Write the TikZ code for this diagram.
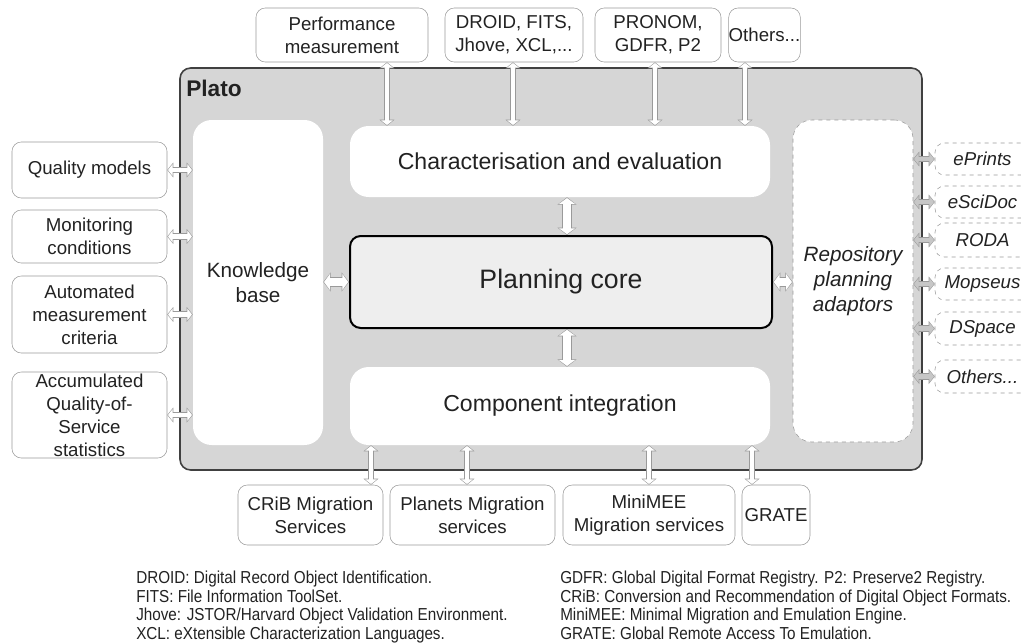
\documentclass[tikz,border=0pt]{standalone}
\usepackage{fontspec}
\setmainfont{Liberation Sans}
\newfontfamily\notefont[FakeStretch=0.88]{Liberation Sans}
\usepackage{tikz}
\usetikzlibrary{arrows.meta,calc}
\definecolor{platogray}{HTML}{D6D6D6}
\definecolor{coregray}{HTML}{EEEEEE}
\definecolor{linegray}{HTML}{9A9A9A}
\definecolor{inkgray}{HTML}{222222}

\begin{document}
\begin{tikzpicture}[
			x=0.75pt, y=-0.75pt,
			every node/.style={text=inkgray, inner sep=0pt},
			platobox/.style={rectangle, draw=black!75, line width=1.2pt, fill=platogray, rounded corners=8pt},
			block/.style={rectangle, fill=white, rounded corners=14pt, align=center, font=\fontsize{17.3}{21}\selectfont},
			corebox/.style={rectangle, draw=black, line width=1.5pt, fill=coregray, rounded corners=8pt, font=\fontsize{20}{24}\selectfont},
			tallbox/.style={rectangle, fill=white, rounded corners=14pt, align=center, font=\fontsize{15.5}{18.75}\selectfont},
			sidebox/.style={rectangle, draw=linegray, fill=white, rounded corners=7pt, align=center, font=\fontsize{14}{17.25}\selectfont},
			repobox/.style={sidebox, dashed, font=\fontsize{14}{17.25}\selectfont\itshape},
			dblarrow/.style={draw=linegray, line width=5pt,
				arrows={Triangle[length=4.5pt 0, width=11pt 0]-Triangle[length=4.5pt 0, width=11pt 0]},
				postaction={draw=#1, line width=3.6pt, shorten >=0.6pt, shorten <=0.6pt,
					arrows={Triangle[length=3.4pt 0, width=8.6pt 0]-Triangle[length=3.4pt 0, width=8.6pt 0]}}},
			dblarrow/.default=white,
			repoarrow/.style={dblarrow=linegray!55},
			widearrow/.style={draw=linegray, line width=8pt,
				arrows={Triangle[length=5.5pt 0, width=14pt 0]-Triangle[length=5.5pt 0, width=14pt 0]},
				postaction={draw=white, line width=6.6pt, shorten >=0.6pt, shorten <=0.6pt,
					arrows={Triangle[length=4.4pt 0, width=11.8pt 0]-Triangle[length=4.4pt 0, width=11.8pt 0]}}}
		]
		\useasboundingbox (0,0) rectangle (1021,643);
		\clip (0,0) rectangle (1021,643);

		% Plato
		\node (plato) [platobox, minimum width=556.5pt, minimum height=301.5pt] at (551,269) {};
		\node (platolabel) [anchor=west, font=\fontsize{17}{20}\selectfont\bfseries] at (186,88) {Plato};

		\node (kb) [tallbox, minimum width=97.5pt, minimum height=243.75pt] at (258,282.5) {Knowledge\\base};
		\node (char) [block, minimum width=315pt, minimum height=53.25pt] at (560,161.5) {Characterisation and evaluation};
		\node (core) [corebox, minimum width=316.5pt, minimum height=69pt] at (561,282) {Planning core};
		\node (comp) [block, minimum width=315pt, minimum height=58.5pt] at (560,406) {Component integration};
		\node (rpa) [tallbox, draw=linegray, dashed, minimum width=90pt, minimum height=241.5pt, font=\fontsize{15.5}{18.75}\selectfont\itshape] at (853,281) {Repository\\planning\\adaptors};

		% top
		\node (perf) [sidebox, minimum width=129pt, minimum height=40.5pt] at (342,35) {Performance\\measurement};
		\node (droid) [sidebox, minimum width=103.5pt, minimum height=40.5pt] at (514,35) {DROID, FITS,\\Jhove, XCL,...};
		\node (pronom) [sidebox, minimum width=94.5pt, minimum height=40.5pt] at (658,35) {PRONOM,\\GDFR, P2};
		\node (otherstop) [sidebox, minimum width=53.25pt, minimum height=40.5pt] at (764.5,35) {Others...};

		% left
		\node (qm) [sidebox, minimum width=116.25pt, minimum height=42pt] at (89.5,170) {Quality models};
		\node (mon) [sidebox, minimum width=116.25pt, minimum height=39.75pt] at (89.5,236.5) {Monitoring\\conditions};
		\node (auto) [sidebox, minimum width=116.25pt, minimum height=57.75pt] at (89.5,314.5) {Automated\\measurement\\criteria};
		\node (acc) [sidebox, minimum width=116.25pt, minimum height=64.5pt] at (89.5,415) {Accumulated\\Quality-of-\\Service\\statistics};

		% right
		\node (eprints) [repobox, minimum width=71.25pt, minimum height=24pt] at (982.5,159) {ePrints};
		\node (escidoc) [repobox, minimum width=71.25pt, minimum height=24pt] at (982.5,202) {eSciDoc};
		\node (roda) [repobox, minimum width=71.25pt, minimum height=25.5pt] at (982.5,240) {RODA};
		\node (mopseus) [repobox, minimum width=71.25pt, minimum height=24pt] at (982.5,284) {Mopseus};
		\node (dspace) [repobox, minimum width=71.25pt, minimum height=24.75pt] at (982.5,328.5) {DSpace};
		\node (othersright) [repobox, minimum width=71.25pt, minimum height=24.75pt] at (982.5,376.5) {Others...};

		% bottom
		\node (crib) [sidebox, minimum width=108.75pt, minimum height=45pt] at (310.5,515) {CRiB Migration\\Services};
		\node (planets) [sidebox, minimum width=123.75pt, minimum height=45pt] at (472.5,515) {Planets Migration\\services};
		\node (minimee) [sidebox, minimum width=129pt, minimum height=45pt] at (649,515) {MiniMEE\\Migration services};
		\node (grate) [sidebox, minimum width=51pt, minimum height=45pt] at (776,515) {GRATE};

		% notes
		\node (notesleft) [anchor=north west, align=left, font=\notefont\fontsize{13}{13.9}\selectfont] at (136,571) {DROID: Digital Record Object Identification.\\FITS: File Information ToolSet.\\Jhove: JSTOR/Harvard Object Validation Environment.\\XCL: eXtensible Characterization Languages.};
		\node (notesright) [anchor=north west, align=left, font=\notefont\fontsize{13}{13.9}\selectfont] at (560,571) {GDFR: Global Digital Format Registry. P2: Preserve2 Registry.\\CRiB: Conversion and Recommendation of Digital Object Formats.\\MiniMEE: Minimal Migration and Emulation Engine.\\GRATE: Global Remote Access To Emulation.};

		% arrows
		\draw[dblarrow] (perf.south -| 387,0) -- (char.north -| 387,0);
		\draw[dblarrow] (droid.south -| 513,0) -- (char.north -| 513,0);
		\draw[dblarrow] (pronom.south -| 655,0) -- (char.north -| 655,0);
		\draw[dblarrow] (otherstop.south -| 745,0) -- (char.north -| 745,0);
		\foreach \n in {qm,mon,auto,acc}
			\draw[dblarrow] (\n.east) -- (\n.east -| kb.west);
		\draw[widearrow] (kb.east |- core) -- (core.west);
		\draw[widearrow] (core.east) -- (rpa.west |- core);
		\draw[widearrow] (char.south -| 567,0) -- (core.north -| 567,0);
		\draw[widearrow] (core.south -| 567,0) -- (comp.north -| 567,0);
		\foreach \n in {eprints,escidoc,roda,mopseus,dspace,othersright}
			\draw[repoarrow] (rpa.east |- \n) -- (\n.west);
		\draw[dblarrow] (comp.south -| 371,0) -- (crib.north -| 371,0);
		\draw[dblarrow] (comp.south -| 467,0) -- (planets.north -| 467,0);
		\draw[dblarrow] (comp.south -| 649,0) -- (minimee.north);
		\draw[dblarrow] (comp.south -| 752,0) -- (grate.north -| 752,0);
	\end{tikzpicture}
\end{document}
